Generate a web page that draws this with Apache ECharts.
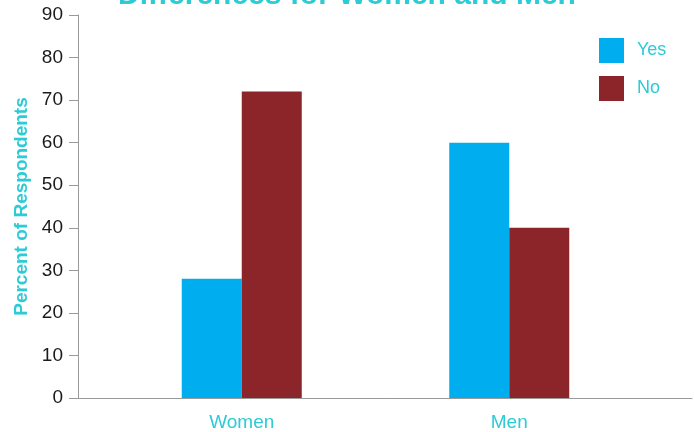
<!DOCTYPE html>
<html>
<head>
<meta charset="utf-8">
<script src="https://cdn.jsdelivr.net/npm/echarts@6/dist/echarts.min.js"></script>
<style>html,body{margin:0;padding:0;background:#fff}#c{width:694px;height:432px}</style>
</head>
<body>
<div id="c"></div>
<script>
var categories = ['Women', 'Men'];
var yesValues = [28, 60];
var noValues = [72, 40];
var seriesNames = ['Yes', 'No'];
var titleText = 'Differences for Women and Men';
var yAxisName = 'Percent of Respondents';

var cyan = '#2ccbd6';
var font = '"Liberation Sans", Arial, Helvetica, sans-serif';
var chart = echarts.init(document.getElementById('c'), null, {renderer: 'canvas'});
chart.setOption({
  animation: false,
  textStyle: {fontFamily: font},
  title: {
    text: titleText, left: 'center', top: -24,
    textStyle: {color: cyan, fontSize: 30, fontWeight: 'bold', fontFamily: font}
  },
  legend: {
    orient: 'vertical', left: 594, top: 33,
    itemWidth: 25, itemHeight: 25, itemGap: 13,
    icon: 'rect', data: seriesNames,
    textStyle: {color: cyan, fontSize: 18, fontFamily: font, padding: [0, 0, 0, 8]}
  },
  grid: [
    {left: 78, right: 2, top: 15, bottom: 34, outerBoundsMode: 'none', containLabel: false},
    {left: 108, width: 535, top: 15, bottom: 34, outerBoundsMode: 'none', containLabel: false}
  ],
  xAxis: [
    {gridIndex: 0, type: 'value', min: 0, max: 1,
     axisLine: {show: true, lineStyle: {color: '#9a9a9a', width: 1}},
     axisTick: {show: false}, axisLabel: {show: false}, splitLine: {show: false}},
    {gridIndex: 1, type: 'category', data: categories,
     axisLine: {show: false}, axisTick: {show: false},
     axisLabel: {color: cyan, fontSize: 19, margin: 15, fontFamily: font}}
  ],
  yAxis: [
    {gridIndex: 0, type: 'value', min: 0, max: 90, interval: 10,
     name: yAxisName, nameLocation: 'middle', nameGap: 46, nameRotate: 90,
     nameTextStyle: {color: cyan, fontSize: 19, fontWeight: 'bold', fontFamily: font},
     axisLine: {show: true, lineStyle: {color: '#9a9a9a', width: 1}},
     axisTick: {show: true, length: 9, lineStyle: {color: '#9a9a9a'}},
     axisLabel: {color: '#1a1a1a', fontSize: 19, margin: 15, fontFamily: font},
     splitLine: {show: false}},
    {gridIndex: 1, type: 'value', min: 0, max: 90, show: false}
  ],
  series: [
    {name: seriesNames[0], type: 'bar', xAxisIndex: 1, yAxisIndex: 1, data: yesValues,
     barWidth: 60, barGap: '0%', itemStyle: {color: '#00aeef'}},
    {name: seriesNames[1], type: 'bar', xAxisIndex: 1, yAxisIndex: 1, data: noValues,
     barWidth: 60, barGap: '0%', itemStyle: {color: '#8b252a'}}
  ]
});
</script>
</body>
</html>
